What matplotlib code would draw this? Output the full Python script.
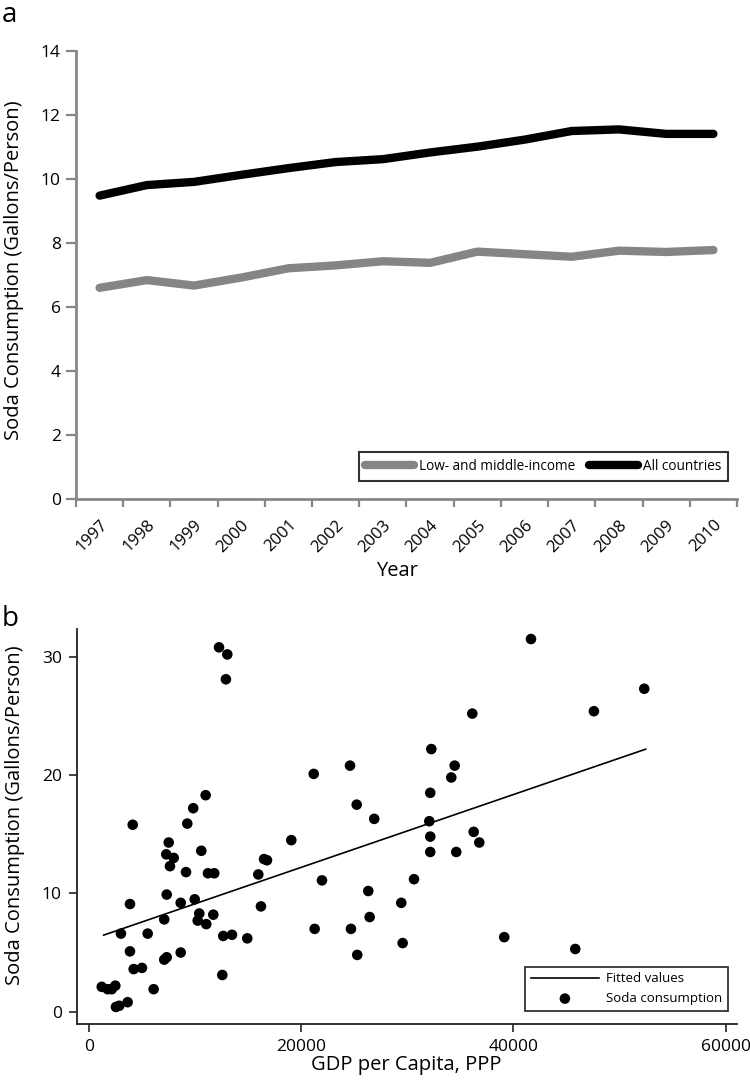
import matplotlib
matplotlib.use("Agg")
import matplotlib.pyplot as plt
import numpy as np

plt.rcParams['font.family'] = ['Open Sans', 'DejaVu Sans']

# ---- Panel a data ----
years = ['1997', '1998', '1999', '2000', '2001', '2002', '2003', '2004',
         '2005', '2006', '2007', '2008', '2009', '2010']
low_middle = [6.60, 6.84, 6.67, 6.92, 7.21, 7.30, 7.43, 7.38, 7.73, 7.65, 7.57, 7.76, 7.72, 7.78]
all_countries = [9.48, 9.81, 9.91, 10.13, 10.34, 10.53, 10.62, 10.83, 11.01, 11.23, 11.50, 11.55, 11.41, 11.41]

# ---- Panel b data ----
gdp = [12280, 13060, 12930, 4150, 11020, 9850, 9290, 7540, 7310, 8010, 7660, 10610,
       9170, 11240, 11830, 7350, 3890, 8670, 9990, 10420, 10270, 11080, 11740, 7120,
       3040, 5560, 12680, 13500, 14940, 3890, 8670, 7120, 7350, 4240, 5020, 12590,
       6120, 1230, 1790, 2170, 2510, 3670, 2570, 2880, 16230, 15980, 16520, 16800,
       19090, 21200, 21980, 21290, 24620, 25250, 24710, 25300,
       41670, 52340, 47600, 36140, 32280, 34480, 34160, 26900, 32180, 32090, 32180,
       32180, 34630, 36270, 36800, 30650, 26340, 29450, 26470, 29580, 39150, 45840]
soda = [30.8, 30.2, 28.1, 15.8, 18.3, 17.2, 15.9, 14.3, 13.3, 13.0, 12.3, 13.6,
        11.8, 11.7, 11.7, 9.9, 9.1, 9.2, 9.5, 8.3, 7.7, 7.4, 8.2, 7.8,
        6.6, 6.6, 6.4, 6.5, 6.2, 5.1, 5.0, 4.4, 4.6, 3.6, 3.7, 3.1,
        1.9, 2.1, 1.9, 1.9, 2.2, 0.8, 0.4, 0.5, 8.9, 11.6, 12.9, 12.8,
        14.5, 20.1, 11.1, 7.0, 20.8, 17.5, 7.0, 4.8,
        31.5, 27.3, 25.4, 25.2, 22.2, 20.8, 19.8, 16.3, 18.5, 16.1, 14.8,
        13.5, 13.5, 15.2, 14.3, 11.2, 10.2, 9.2, 8.0, 5.8, 6.3, 5.3]
fit_x = [1410, 52470]
fit_y = [6.47, 22.19]

W, H = 750, 1088
fig = plt.figure(figsize=(W / 100, H / 100), dpi=100)

def frac(left, top, right, bottom):
    return [left / W, 1 - bottom / H, (right - left) / W, (bottom - top) / H]

# ================= Panel a =================
axc = '#878787'
a_top, a_bot = 51, 499
ax1 = fig.add_axes(frac(76, a_top, 737, a_bot))
x = np.arange(len(years))
ax1.plot(x, low_middle, color='#858585', lw=6.0, solid_capstyle='round',
         solid_joinstyle='round', label='Low- and middle-income')
ax1.plot(x, all_countries, color='black', lw=6.0, solid_capstyle='round',
         solid_joinstyle='round', label='All countries')
ax1.set_xlim(-0.5, len(years) - 0.5)
ax1.set_ylim(0, 14)
ax1.set_yticks(np.arange(0, 15, 2))
ax1.set_xticks(np.arange(-0.5, len(years), 1))
ax1.set_xticklabels([])
ax1.set_xticks(x, minor=True)
ax1.set_xticklabels(years, minor=True, rotation=45, ha='right',
                    rotation_mode='anchor', fontsize=12)
ax1.tick_params(axis='x', which='minor', length=0, pad=13)
ax1.tick_params(axis='x', which='major', length=6, width=1.6, color=axc)
ax1.tick_params(axis='y', length=7, width=1.6, color=axc, labelsize=12.5, pad=4)
for s in ['top', 'right']:
    ax1.spines[s].set_visible(False)
for s in ['left', 'bottom']:
    ax1.spines[s].set_color(axc)
    ax1.spines[s].set_linewidth(2)
ah = a_bot - a_top
ax1.set_ylabel('Soda Consumption (Gallons/Person)', fontsize=14.5)
ax1.yaxis.set_label_coords((24 - 76) / 661, (a_bot - 270) / ah)
ax1.set_xlabel('Year', fontsize=14.5)
ax1.xaxis.set_label_coords((397 - 76) / 661, (a_bot - 561) / ah)
leg1 = ax1.legend(loc='upper right', bbox_to_anchor=(728 / W, 1 - 452 / H),
                  bbox_transform=fig.transFigure, ncol=2, fontsize=9.8,
                  frameon=True, fancybox=False, handlelength=3.6,
                  handletextpad=0.35, columnspacing=1.0, borderpad=0.5,
                  borderaxespad=0)
leg1.get_frame().set_edgecolor('black')
leg1.get_frame().set_linewidth(1.5)
fig.text(2 / W, 1 - 1 / H, 'a', fontsize=20, ha='left', va='top')

# ================= Panel b =================
ax2 = fig.add_axes(frac(77, 629, 736.7, 1023.5))
ax2.plot(fit_x, fit_y, color='black', lw=1.2, label='Fitted values')
ax2.scatter(gdp, soda, s=58, color='black', edgecolors='none',
            label='Soda consumption', zorder=3)
ax2.set_xlim(-1100, 61050)
ax2.set_ylim(-1, 32.35)
ax2.set_xticks([0, 20000, 40000, 60000])
ax2.set_xticklabels(['0', '20000', '40000', '60000'])
ax2.set_yticks([0, 10, 20, 30])
for s in ['top', 'right']:
    ax2.spines[s].set_visible(False)
for s in ['left', 'bottom']:
    ax2.spines[s].set_color('#222222')
    ax2.spines[s].set_linewidth(1.3)
ax2.tick_params(length=6, width=1.2, color='#222222', labelsize=12.5, pad=5)
ax2.set_ylabel('Soda Consumption (Gallons/Person)', fontsize=14.5)
ax2.yaxis.set_label_coords((25 - 77) / 659.5, (1023.5 - 815) / 394.5)
ax2.set_xlabel('GDP per Capita, PPP', fontsize=14.5)
ax2.xaxis.set_label_coords((406 - 77) / 659.5, (1023.5 - 1055) / 394.5)
leg2 = ax2.legend(loc='lower right', bbox_to_anchor=(728 / W, 1 - 1011 / H),
                  bbox_transform=fig.transFigure, fontsize=9.5, frameon=True,
                  fancybox=False, handlelength=5.2, handletextpad=0.5,
                  borderpad=0.45, labelspacing=0.5, borderaxespad=0,
                  scatterpoints=1, markerscale=1.0)
leg2.get_frame().set_edgecolor('black')
leg2.get_frame().set_linewidth(1.3)
fig.text(2 / W, 1 - 605 / H, 'b', fontsize=20, ha='left', va='top')

fig.savefig('out.png', dpi=100)
